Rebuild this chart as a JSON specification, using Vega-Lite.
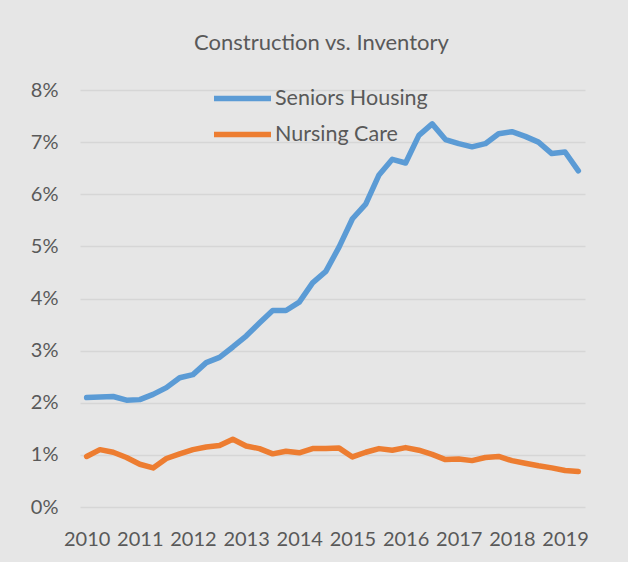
{
  "$schema": "https://vega.github.io/schema/vega-lite/v6.json",
  "autosize": {"type": "none"},
  "width": 505,
  "height": 417,
  "padding": {"left": 80, "top": 90, "right": 43, "bottom": 55},
  "background": "#e6e6e6",
  "config": {
    "view": {"stroke": null},
    "font": "Lato",
    "legend": {
      "title": null,
      "orient": "none",
      "symbolType": "stroke",
      "symbolSize": 3249,
      "symbolStrokeWidth": 5.5,
      "labelFontSize": 21.5,
      "labelColor": "#595959",
      "labelFont": "Lato",
      "labelOffset": 1
    }
  },
  "title": {
    "text": "Construction vs. Inventory",
    "anchor": "middle",
    "fontSize": 22,
    "font": "Lato",
    "fontWeight": "normal",
    "color": "#595959",
    "offset": 12,
    "dx": -11
  },
  "data": {
    "values": [
      {"q": "2010 Q1", "Seniors Housing": 0.0210, "Nursing Care": 0.0097},
      {"q": "2010 Q2", "Seniors Housing": 0.0211, "Nursing Care": 0.0110},
      {"q": "2010 Q3", "Seniors Housing": 0.0212, "Nursing Care": 0.0105},
      {"q": "2010 Q4", "Seniors Housing": 0.0205, "Nursing Care": 0.0095},
      {"q": "2011 Q1", "Seniors Housing": 0.0206, "Nursing Care": 0.0082},
      {"q": "2011 Q2", "Seniors Housing": 0.0216, "Nursing Care": 0.0075},
      {"q": "2011 Q3", "Seniors Housing": 0.0229, "Nursing Care": 0.0093},
      {"q": "2011 Q4", "Seniors Housing": 0.0248, "Nursing Care": 0.0102},
      {"q": "2012 Q1", "Seniors Housing": 0.0254, "Nursing Care": 0.0110},
      {"q": "2012 Q2", "Seniors Housing": 0.0277, "Nursing Care": 0.0115},
      {"q": "2012 Q3", "Seniors Housing": 0.0287, "Nursing Care": 0.0118},
      {"q": "2012 Q4", "Seniors Housing": 0.0307, "Nursing Care": 0.0130},
      {"q": "2013 Q1", "Seniors Housing": 0.0328, "Nursing Care": 0.0117},
      {"q": "2013 Q2", "Seniors Housing": 0.0353, "Nursing Care": 0.0112},
      {"q": "2013 Q3", "Seniors Housing": 0.0377, "Nursing Care": 0.0102},
      {"q": "2013 Q4", "Seniors Housing": 0.0377, "Nursing Care": 0.0107},
      {"q": "2014 Q1", "Seniors Housing": 0.0393, "Nursing Care": 0.0104},
      {"q": "2014 Q2", "Seniors Housing": 0.0430, "Nursing Care": 0.0112},
      {"q": "2014 Q3", "Seniors Housing": 0.0452, "Nursing Care": 0.0112},
      {"q": "2014 Q4", "Seniors Housing": 0.0499, "Nursing Care": 0.0113},
      {"q": "2015 Q1", "Seniors Housing": 0.0553, "Nursing Care": 0.0096},
      {"q": "2015 Q2", "Seniors Housing": 0.0581, "Nursing Care": 0.0105},
      {"q": "2015 Q3", "Seniors Housing": 0.0637, "Nursing Care": 0.0112},
      {"q": "2015 Q4", "Seniors Housing": 0.0667, "Nursing Care": 0.0109},
      {"q": "2016 Q1", "Seniors Housing": 0.0660, "Nursing Care": 0.0114},
      {"q": "2016 Q2", "Seniors Housing": 0.0713, "Nursing Care": 0.0109},
      {"q": "2016 Q3", "Seniors Housing": 0.0735, "Nursing Care": 0.0101},
      {"q": "2016 Q4", "Seniors Housing": 0.0705, "Nursing Care": 0.0091},
      {"q": "2017 Q1", "Seniors Housing": 0.0697, "Nursing Care": 0.0092},
      {"q": "2017 Q2", "Seniors Housing": 0.0691, "Nursing Care": 0.0089},
      {"q": "2017 Q3", "Seniors Housing": 0.0697, "Nursing Care": 0.0095},
      {"q": "2017 Q4", "Seniors Housing": 0.0716, "Nursing Care": 0.0097},
      {"q": "2018 Q1", "Seniors Housing": 0.0720, "Nursing Care": 0.0089},
      {"q": "2018 Q2", "Seniors Housing": 0.0711, "Nursing Care": 0.0084},
      {"q": "2018 Q3", "Seniors Housing": 0.0700, "Nursing Care": 0.0079},
      {"q": "2018 Q4", "Seniors Housing": 0.0678, "Nursing Care": 0.0075},
      {"q": "2019 Q1", "Seniors Housing": 0.0681, "Nursing Care": 0.0070},
      {"q": "2019 Q2", "Seniors Housing": 0.0645, "Nursing Care": 0.0068}
    ]
  },
  "transform": [
    {"fold": ["Seniors Housing", "Nursing Care"], "as": ["series", "value"]}
  ],
  "encoding": {
    "x": {
      "field": "q",
      "type": "ordinal",
      "scale": {"type": "point", "padding": 0.5},
      "axis": {
        "title": null,
        "labelAngle": 0,
        "labelOverlap": false,
        "ticks": false,
        "domain": false,
        "grid": false,
        "labelExpr": "slice(datum.value, 5) == 'Q1' ? slice(datum.value, 0, 4) : ''",
        "labelFontSize": 20,
        "labelColor": "#595959",
        "labelFont": "Lato",
        "labelPadding": 22
      }
    },
    "y": {
      "field": "value",
      "type": "quantitative",
      "scale": {"domain": [0, 0.08], "nice": false},
      "axis": {
        "title": null,
        "values": [0, 0.01, 0.02, 0.03, 0.04, 0.05, 0.06, 0.07, 0.08],
        "format": ".0%",
        "ticks": false,
        "domain": false,
        "gridColor": "#d6d6d6",
        "gridWidth": 1.5,
        "labelFontSize": 20,
        "labelColor": "#595959",
        "labelFont": "Lato",
        "labelPadding": 22
      }
    }
  },
  "layer": [
    {
      "transform": [{"filter": "datum.series == 'Nursing Care'"}],
      "mark": {"type": "line", "strokeWidth": 5.5, "strokeCap": "round", "strokeJoin": "round"},
      "encoding": {
        "color": {
          "field": "series",
          "type": "nominal",
          "scale": {"domain": ["Nursing Care"], "range": ["#ED7D31"]},
          "legend": {"legendX": 131, "legendY": 13}
        }
      }
    },
    {
      "transform": [{"filter": "datum.series == 'Seniors Housing'"}],
      "mark": {"type": "line", "strokeWidth": 5.5, "strokeCap": "round", "strokeJoin": "round"},
      "encoding": {
        "color": {
          "field": "series",
          "type": "nominal",
          "scale": {"domain": ["Seniors Housing"], "range": ["#5B9BD5"]},
          "legend": {"legendX": 131, "legendY": -23}
        }
      }
    }
  ],
  "resolve": {"scale": {"color": "independent"}, "legend": {"color": "independent"}}
}
